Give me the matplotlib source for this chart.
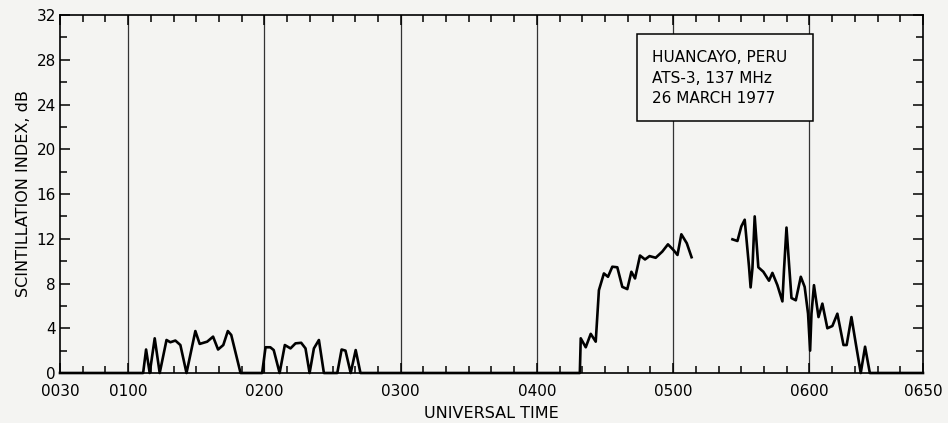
import numpy as np
import matplotlib.pyplot as plt
from matplotlib.patches import Rectangle
from matplotlib.ticker import MultipleLocator

# time in minutes after 0000 UT, scintillation index in dB
t1 = [30, 66.6, 67.9, 69.5, 71.7, 73.9, 76.9, 78.6, 80.8, 83.0, 85.7,
      89.6, 91.5, 94.8, 97.4, 99.6, 101.9, 103.9, 105.4, 109.5]
s1 = [0, 0, 2.1, 0, 3.1, 0, 2.95, 2.75, 2.9, 2.5, 0,
      3.75, 2.6, 2.8, 3.25, 2.1, 2.5, 3.75, 3.4, 0]

t2 = [119.0, 120.5, 122.6, 124.1, 126.7, 129.0, 131.5, 133.7, 136.2, 138.1,
      139.9, 141.8, 144.0, 146.2, 152.1, 154.0, 155.7, 158.0, 160.2, 162.3]
s2 = [0, 2.3, 2.3, 2.05, 0, 2.5, 2.2, 2.65, 2.7, 2.2,
      0, 2.2, 2.95, 0, 0, 2.1, 2.0, 0, 2.05, 0]

t3 = [258.9, 259.3, 261.5, 263.7, 265.9, 267.3, 269.5, 271.3, 273.2, 275.4,
      277.6, 279.8, 281.6, 283.2, 285.4, 287.6, 289.6, 292.3, 295.2, 297.7,
      300.1, 301.9, 303.6, 306.0, 308.1]
s3 = [0, 3.1, 2.3, 3.5, 2.8, 7.4, 8.9, 8.6, 9.5, 9.45,
      7.7, 7.5, 9.05, 8.45, 10.5, 10.15, 10.45, 10.3, 10.85, 11.5,
      11.0, 10.55, 12.4, 11.6, 10.35]

t4 = [326.1, 328.3, 330.0, 331.5, 333.4, 334.1, 334.9, 335.9, 337.5, 339.7,
      342.2, 343.7, 345.9, 348.1, 348.8, 349.9, 351.0, 352.1, 354.0, 356.2,
      357.9, 359.4, 360.3, 360.9, 362.0, 364.0, 365.7, 367.9, 370.1, 372.3,
      375.0, 376.4, 378.5, 380.4, 382.6, 384.5, 386.6, 410]
s4 = [11.95, 11.8, 13.1, 13.7, 9.5, 7.65, 9.35, 14.0, 9.45, 9.05,
      8.25, 8.95, 7.85, 6.4, 9.2, 13.0, 9.8, 6.7, 6.5, 8.6,
      7.7, 5.3, 2.0, 5.3, 7.85, 5.0, 6.2, 4.0, 4.2, 5.3,
      2.5, 2.5, 5.0, 2.65, 0, 2.35, 0, 0]

major_x = [30, 60, 120, 180, 240, 300, 360, 410]
major_x_labels = ["0030", "0100", "0200", "0300", "0400", "0500", "0600", "0650"]
grid_x = [60, 120, 180, 240, 300, 360]
box_lines = ["HUANCAYO, PERU", "ATS-3, 137 MHz", "26 MARCH 1977"]

bg = "#f4f4f2"
fig = plt.figure(figsize=(9.48, 4.23), dpi=100, facecolor=bg)
ax = fig.add_axes([0.0633, 0.1182, 0.9103, 0.8463], facecolor=bg)

for g in grid_x:
    ax.axvline(g, color="#333333", lw=0.9, zorder=1)

# zeros join the first three blocks; gap before the last one
t = t1 + t2 + t3 + [np.nan] + t4
s = s1 + s2 + s3 + [np.nan] + s4
ax.plot(t, s, color="black", lw=1.9, zorder=3, clip_on=False)

ax.set_xlim(30, 410)
ax.set_ylim(0, 32)
ax.set_xticks(major_x)
ax.set_xticklabels(major_x_labels)
ax.xaxis.set_minor_locator(MultipleLocator(10))
ax.set_yticks(range(0, 33, 4))
ax.yaxis.set_minor_locator(MultipleLocator(2))
ax.tick_params(which="both", direction="in", top=True, right=True,
               labelsize=11, width=1.1)
ax.tick_params(which="major", length=7)
ax.tick_params(which="minor", length=5)
ax.tick_params(axis="x", which="major", pad=8)
ax.tick_params(axis="y", which="major", pad=3)
for sp in ax.spines.values():
    sp.set_linewidth(1.2)

ax.set_ylabel("SCINTILLATION INDEX, dB", fontsize=11.5, labelpad=4)
ax.set_xlabel("UNIVERSAL TIME", fontsize=11.5, labelpad=5)

ax.add_patch(Rectangle((0.669, 0.704), 0.2035, 0.243, transform=ax.transAxes,
                       facecolor=bg, edgecolor="black", lw=1.1, zorder=4))
for i, line in enumerate(box_lines):
    ax.text(0.686, 0.88 - i * 0.056, line, transform=ax.transAxes,
            fontsize=11, va="center", ha="left", zorder=5)

fig.savefig("out.png", dpi=100, facecolor=bg)
